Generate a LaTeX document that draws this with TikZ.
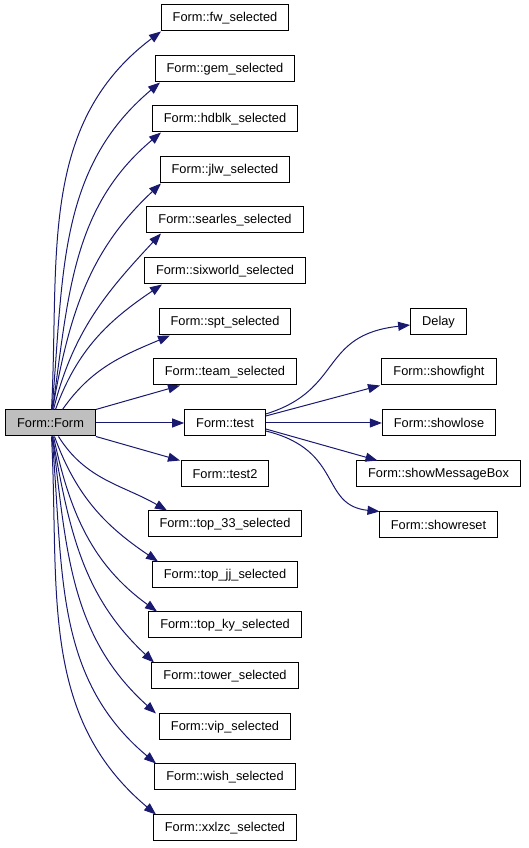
\documentclass[tikz,border=0pt]{standalone}
\usepackage{fontspec}
\setmainfont{Liberation Sans}
\usetikzlibrary{arrows.meta}
\definecolor{edgeblue}{HTML}{191970}
\definecolor{rootgray}{HTML}{BFBFBF}
\begin{document}
\begin{tikzpicture}[x=1pt,y=1pt,
    >={Triangle[length=12pt,width=9pt]},
    box/.style={draw=black,line width=1pt,fill=white,minimum height=26pt,inner xsep=11.5pt,inner ysep=0pt,
      font=\fontsize{12.8}{15}\selectfont},
    call/.style={->,draw=edgeblue,line width=1pt}]
    \useasboundingbox (0,0) rectangle (528,848);
    % root
    \node[box,fill=rootgray] (form) at (50.5,425) {Form::Form};
    % left column
    \node[box] (fw) at (225,830) {Form::fw\_selected};
    \node[box] (gem) at (225,779) {Form::gem\_selected};
    \node[box] (hdblk) at (225,729) {Form::hdblk\_selected};
    \node[box] (jlw) at (225,678) {Form::jlw\_selected};
    \node[box] (searles) at (225,628) {Form::searles\_selected};
    \node[box] (sixworld) at (225,577) {Form::sixworld\_selected};
    \node[box] (spt) at (225,526) {Form::spt\_selected};
    \node[box] (team) at (225,476) {Form::team\_selected};
    \node[box] (test) at (225,425) {Form::test};
    \node[box] (testtwo) at (225,374) {Form::test2};
    \node[box] (topthree) at (225,324) {Form::top\_33\_selected};
    \node[box] (topjj) at (225,273) {Form::top\_jj\_selected};
    \node[box] (topky) at (225,223) {Form::top\_ky\_selected};
    \node[box] (tower) at (225,172) {Form::tower\_selected};
    \node[box] (vip) at (225,121) {Form::vip\_selected};
    \node[box] (wish) at (225,71) {Form::wish\_selected};
    \node[box] (xxlzc) at (225,20) {Form::xxlzc\_selected};
    % right column
    \node[box] (delay) at (438.5,526) {Delay};
    \node[box] (showfight) at (439,476) {Form::showfight};
    \node[box] (showlose) at (439,425) {Form::showlose};
    \node[box] (showmsg) at (438.5,374) {Form::showMessageBox};
    \node[box] (showreset) at (438.5,323) {Form::showreset};
    % calls from Form::Form
    \draw[call] ([xshift=1pt]form.north) to[out=87,in=217] ([xshift=-64pt]fw.south);
    \draw[call] ([xshift=1.5pt]form.north) to[out=85,in=220] ([xshift=-65pt]gem.south);
    \draw[call] ([xshift=2pt]form.north) to[out=82,in=220] ([xshift=-64pt]hdblk.south);
    \draw[call] ([xshift=2pt]form.north) to[out=80,in=223] ([xshift=-64pt]jlw.south);
    \draw[call] ([xshift=3pt]form.north) to[out=76,in=227] ([xshift=-64pt]searles.south);
    \draw[call] ([xshift=5pt]form.north) to[out=70,in=214] ([xshift=-63pt]sixworld.south);
    \draw[call] ([xshift=12pt]form.north) to[out=55,in=203] ([xshift=-55pt]spt.south);
    \draw[call] (form.north east) -- ([xshift=-45pt]team.south);
    \draw[call] (form.east) -- (test.west);
    \draw[call] (form.south east) -- ([xshift=-45pt]testtwo.north);
    \draw[call] ([xshift=8pt]form.south) to[out=-58,in=150] ([xshift=-58pt]topthree.north);
    \draw[call] ([xshift=4pt]form.south) to[out=-70,in=146] ([xshift=-67pt]topjj.north);
    \draw[call] ([xshift=3pt]form.south) to[out=-78,in=144] ([xshift=-68pt]topky.north);
    \draw[call] ([xshift=2pt]form.south) to[out=-80,in=137] ([xshift=-71pt]tower.north);
    \draw[call] ([xshift=2pt]form.south) to[out=-83,in=138] ([xshift=-69pt]vip.north);
    \draw[call] ([xshift=1.5pt]form.south) to[out=-85,in=140] ([xshift=-69pt]wish.north);
    \draw[call] ([xshift=1pt]form.south) to[out=-87,in=140] ([xshift=-69pt]xxlzc.north);
    % calls from Form::test
    \draw[call] ([yshift=9pt]test.east) .. controls +(78,24) and +(-91,-10) .. ([yshift=-3pt]delay.west);
    \draw[call] ([yshift=7pt]test.east) -- ([xshift=-59pt]showfight.south);
    \draw[call] (test.east) -- (showlose.west);
    \draw[call] ([yshift=-6pt]test.east) -- ([xshift=-61pt]showmsg.north);
    \draw[call] ([yshift=-8pt]test.east) .. controls +(78,-19) and +(-60,6) .. ([xshift=-59pt]showreset.north);
\end{tikzpicture}
\end{document}
